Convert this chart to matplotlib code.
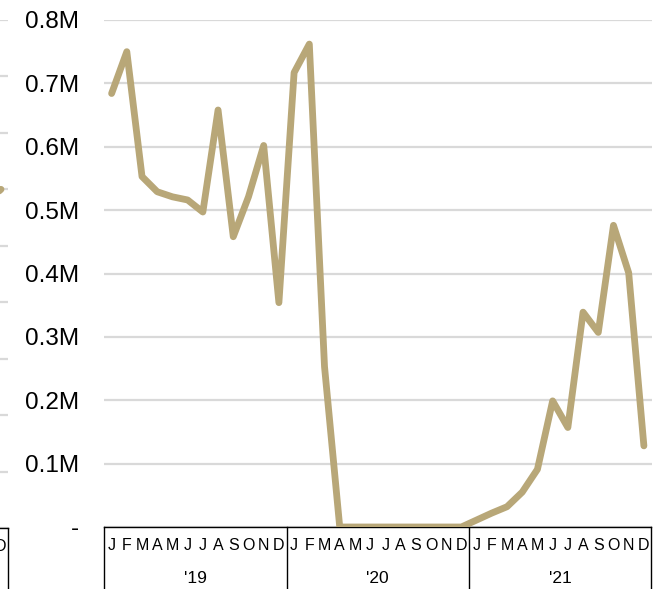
import matplotlib
matplotlib.use("Agg")
import matplotlib.pyplot as plt
from matplotlib.ticker import FuncFormatter

plt.rcParams['font.family'] = ['Liberation Sans', 'DejaVu Sans']

# ---- data ----
months = ['J', 'F', 'M', 'A', 'M', 'J', 'J', 'A', 'S', 'O', 'N', 'D']
years = ["'19", "'20", "'21"]
values_2019 = [0.684, 0.750, 0.553, 0.529, 0.521, 0.516, 0.497, 0.658, 0.458, 0.521, 0.602, 0.354]
values_2020 = [0.717, 0.762, 0.253, 0.0, 0.0, 0.0, 0.0, 0.0, 0.0, 0.0, 0.0, 0.0]
values_2021 = [0.011, 0.022, 0.032, 0.055, 0.091, 0.199, 0.157, 0.339, 0.307, 0.476, 0.401, 0.128]
y_ticks = [0.0, 0.1, 0.2, 0.3, 0.4, 0.5, 0.6, 0.7, 0.8]

# left (cropped) neighbour panel: only its last point is visible
left_months = ['N', 'D']
left_values = [0.58, 0.60]
left_ticks = [0.0, 0.1, 0.2, 0.3, 0.4, 0.5, 0.6, 0.7, 0.8, 0.9]

values = values_2019 + values_2020 + values_2021
labels = months * len(years)

W, H = 666, 589
fig = plt.figure(figsize=(W / 100, H / 100), dpi=100)

LINE = '#B8A778'
GRID = '#D9D9D9'
LW = 4.9

# main axes
x0, x1 = 104, 651.5
ytop, ybot = 20, 527
ax = fig.add_axes([x0 / W, (H - ybot) / H, (x1 - x0) / W, (ybot - ytop) / H])
xs = list(range(len(values)))
ax.plot(xs, values, color=LINE, lw=LW, solid_capstyle='round', solid_joinstyle='round', zorder=3)
ax.set_xlim(-0.5, len(values) - 0.5)
ax.set_ylim(0, 0.8)
ax.set_yticks(y_ticks)
ax.yaxis.set_major_formatter(FuncFormatter(lambda v, p: '-' if abs(v) < 1e-9 else f'{v:.1f}M'))
ax.grid(axis='y', color=GRID, lw=1.6)
ax.set_axisbelow(True)
for s in ['top', 'right', 'left']:
    ax.spines[s].set_visible(False)
ax.spines['bottom'].set_color('black')
ax.spines['bottom'].set_linewidth(1.0)
ax.tick_params(axis='y', length=0, pad=18, labelsize=17.5)
ax.set_xticks(xs)
ax.set_xticklabels(labels)
ax.tick_params(axis='x', length=0, pad=8, labelsize=11.5)

n = len(months)
for i in range(len(years) + 1):
    ax.axvline(i * n - 0.5, ymin=-0.14, ymax=0, color='black', lw=1.0, clip_on=False)
for i, yl in enumerate(years):
    ax.annotate(yl, xy=(i * n + (n - 1) / 2, 0), xycoords=('data', 'axes fraction'),
                xytext=(0, -37), textcoords='offset points', ha='center', va='center', fontsize=12.5)

# left neighbour panel (mostly off the figure)
lsp = 13.0
lr = 7.5
lw_ = lsp * len(left_months)
lax = fig.add_axes([(lr - lw_) / W, (H - 528) / H, lw_ / W, (528 - 20) / H])
lax.plot(range(len(left_values)), left_values, color=LINE, lw=LW, solid_capstyle='round', zorder=3)
lax.set_xlim(-0.5, len(left_values) - 0.5)
lax.set_ylim(0, 0.9)
lax.set_yticks(left_ticks)
lax.set_yticklabels([])
lax.grid(axis='y', color=GRID, lw=1.6)
lax.set_axisbelow(True)
for s in ['top', 'right', 'left']:
    lax.spines[s].set_visible(False)
lax.spines['bottom'].set_linewidth(1.0)
lax.tick_params(axis='y', length=0)
lax.set_xticks(range(len(left_months)))
lax.set_xticklabels(left_months)
lax.tick_params(axis='x', length=0, pad=8, labelsize=11.5)
lax.axvline(len(left_values) - 0.5, ymin=-0.14, ymax=0, color='black', lw=1.0, clip_on=False)

fig.savefig('out.png', dpi=100)
